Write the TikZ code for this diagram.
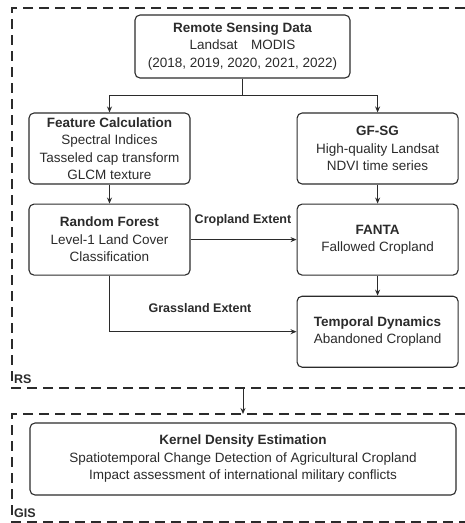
\documentclass[tikz,border=0pt]{standalone}
\usepackage{fontspec}
\setmainfont{Liberation Sans}
\usepackage{xcolor}
\usetikzlibrary{arrows.meta,positioning}
\definecolor{ink}{HTML}{2B2B2B}

\begin{document}
\begin{tikzpicture}[
    x=1pt,y=-1pt,
    node distance=19pt,
    box/.style={draw=ink,line width=1.1pt,rounded corners=5pt,minimum width=161pt,minimum height=71pt,align=center,text=ink,inner sep=1pt,font=\fontsize{13.5}{17.5}\selectfont},
    arrow/.style={-{Stealth[length=6pt,width=5pt]},line width=1pt,draw=ink},
    zone/.style={draw=ink,line width=1.3pt,dash pattern=on 10pt off 6pt},
    tag/.style={text=ink,inner sep=0pt,font=\bfseries\fontsize{12.5}{14}\selectfont}
  ]
    \useasboundingbox (0,0) rectangle (465,523);
    % RS and GIS zones
    \draw[zone] (465,8) -- (12,8) -- (12,388) -- (465,388);
    \draw[zone] (465,414) -- (12,414) -- (12,522) -- (465,522);
    \node[tag,anchor=west] (rs) at (14,379) {RS};
    \node[tag,anchor=west] (gis) at (14,513) {GIS};
    % remote sensing part
    \node[box,minimum width=215pt,minimum height=63pt] (rsd) at (242.5,46.5) {\textbf{Remote Sensing Data}\\Landsat\quad MODIS\\(2018, 2019, 2020, 2021, 2022)};
    \node[box] (fc) at (109.5,148.5) {\textbf{Feature Calculation}\\Spectral Indices\\Tasseled cap transform\\GLCM texture};
    \node[box,right=106pt of fc] (gf) {\textbf{GF-SG}\\High-quality Landsat\\NDVI time series};
    \node[box,below=of fc] (rf) {\textbf{Random Forest}\\Level-1 Land Cover\\Classification};
    \node[box,below=of gf] (fanta) {\textbf{FANTA}\\Fallowed Cropland};
    \node[box,below=20pt of fanta] (td) {\textbf{Temporal Dynamics}\\Abandoned Cropland};
    \draw[arrow] (rsd.south) -- ++(0,17) -| (fc.north);
    \draw[arrow] (rsd.south) -- ++(0,17) -| (gf.north);
    \draw[arrow] (fc) -- (rf);
    \draw[arrow] (gf) -- (fanta);
    \draw[arrow] (fanta) -- (td);
    \draw[arrow] (rf.east) -- (fanta.west);
    \draw[arrow] (rf.south) |- (td.west);
    \node[tag] (crop) at (243,220) {Cropland Extent};
    \node[tag] (grass) at (200,308) {Grassland Extent};
    % GIS part
    \coordinate (rsbot) at (243,388);
    \coordinate (gistop) at (243,414);
    \draw[arrow] (rsbot) -- (gistop);
    \node[box,minimum width=426pt,minimum height=72pt] (kde) at (243,459) {\textbf{Kernel Density Estimation}\\Spatiotemporal Change Detection of Agricultural Cropland\\Impact assessment of international military conflicts};
\end{tikzpicture}
\end{document}
